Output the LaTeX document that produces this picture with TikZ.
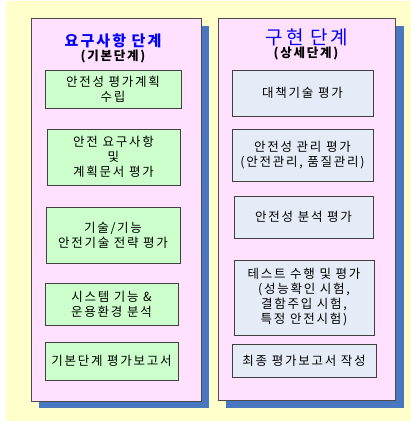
\documentclass[tikz,border=0pt]{standalone}
\usepackage{fontspec}
\setmainfont[LetterSpace=14]{Noto Sans CJK KR}
\definecolor{yellowbg}{HTML}{FFFFCC}
\definecolor{pinkbg}{HTML}{FFE1FF}
\definecolor{shadowblue}{HTML}{4A78C0}
\definecolor{greenbg}{HTML}{CCFFCC}
\definecolor{graybox}{HTML}{E6ECF7}
\definecolor{titleblue}{HTML}{0000FF}
\tikzset{
  panel/.style={fill=pinkbg, draw=black!70, line width=0.9pt, inner sep=0pt},
  shadowbox/.style={fill=shadowblue},
  gbox/.style={draw=black!75, fill=greenbg, line width=0.8pt, align=center, inner sep=0pt,
    font=\fontsize{12.5}{15}\selectfont},
  bbox/.style={draw=black!75, fill=graybox, line width=0.8pt, align=center, inner sep=0pt,
    font=\fontsize{12.5}{15}\selectfont},
  ttlA/.style={text=titleblue, font=\bfseries\fontsize{15}{18}\selectfont, inner sep=0pt},
  ttlB/.style={text=titleblue, font=\fontsize{19}{22}\selectfont, inner sep=0pt},
  sub/.style={font=\bfseries\fontsize{12.5}{15}\selectfont, inner sep=0pt},
}
\begin{document}
\begin{tikzpicture}[x=1pt,y=-1pt]
\useasboundingbox (0,0) rectangle (411,421);
\fill[yellowbg] (6,1) rectangle (411,421);
% shadows
\fill[shadowbox] (39,26) rectangle (209,408);
\fill[shadowbox] (226,26) rectangle (404,408);
% panels
\node[panel, minimum width=170pt, minimum height=383pt] (lp) at (116,209.5) {};
\node[panel, minimum width=177pt, minimum height=382pt] (rp) at (306.5,209) {};
% titles
\node[ttlA] (lt) at (113,41) {요구사항 단계};
\node[sub] (ls) at (113,57) {(기본단계)};
\node[ttlB] (rt) at (307,37) {구현 단계};
\node[sub] (rs) at (306,54) {(상세단계)};
% left boxes
\node[gbox, minimum width=136pt, minimum height=38pt] (l1) at (113,89) {안전성 평가계획\\수립};
\node[gbox, minimum width=133pt, minimum height=56pt] (l2) at (113.5,157) {안전 요구사항\\및\\계획문서 평가};
\node[gbox, minimum width=134pt, minimum height=56pt] (l3) at (113,235) {기술/기능\\안전기술 전략 평가};
\node[gbox, minimum width=133pt, minimum height=42pt] (l4) at (111.5,304) {시스템 기능 \&\\운용환경 분석};
\node[gbox, minimum width=133pt, minimum height=38pt] (l5) at (111.5,361) {기본단계 평가보고서};
% right boxes
\node[bbox, minimum width=141pt, minimum height=46pt] (r1) at (302.5,93) {대책기술 평가};
\node[bbox, minimum width=141pt, minimum height=52pt] (r2) at (302.5,155) {안전성 관리 평가\\(안전관리, 품질관리)};
\node[bbox, minimum width=139pt, minimum height=42pt] (r3) at (303.5,217) {안전성 분석 평가};
\node[bbox, minimum width=140pt, minimum height=75pt] (r4) at (304,297.5) {테스트 수행 및 평가\\(성능확인 시험,\\결함주입 시험,\\특정 안전시험)};
\node[bbox, minimum width=144pt, minimum height=33pt] (r5) at (304,360.5) {최종 평가보고서 작성};
\end{tikzpicture}
\end{document}
